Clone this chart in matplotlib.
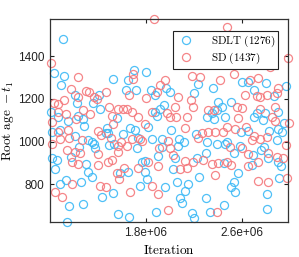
import matplotlib
matplotlib.use("Agg")
import matplotlib.pyplot as plt
import numpy as np

plt.rcParams["mathtext.fontset"] = "cm"

# iteration (millions) and root age for each sampler
sdlt_iter = [1.106, 1.036, 1.119, 1.089, 1.208, 1.411, 1.223, 1.361, 1.419, 1.006,
             1.236, 1.067, 1.153, 1.278, 1.286, 1.019, 1.083, 1.208, 1.314, 1.348,
             1.369, 1.464, 1.242, 1.175, 1.375, 1.298, 1.014, 1.056, 1.042, 1.319,
             1.353, 1.131, 1.083, 1.258, 1.431, 1.158, 1.273, 1.139, 1.525, 1.569,
             1.661, 1.750, 1.528, 1.700, 1.798, 1.648, 1.631, 1.717, 1.839, 1.875,
             1.964, 1.875, 1.917, 1.953, 1.558, 1.889, 1.473, 1.667, 1.708, 1.814,
             1.486, 1.611, 1.736, 1.853, 1.931, 1.492, 1.531, 1.725, 1.931, 1.898,
             1.769, 1.792, 1.583, 1.648, 1.792, 1.806, 1.958, 1.881, 2.236, 2.000,
             2.361, 2.203, 2.403, 2.431, 2.348, 2.389, 2.306, 2.458, 2.564, 2.603,
             2.653, 2.798, 2.703, 2.869, 2.964, 2.508, 2.723, 2.792, 2.903, 2.703,
             2.369, 2.008, 2.214, 2.075, 2.119, 2.069, 2.306, 2.389, 2.458, 2.042,
             2.222, 2.300, 2.453, 2.028, 2.056, 2.242, 2.153, 2.125, 2.083, 2.103,
             2.298, 2.181, 2.203, 2.333, 2.778, 2.953, 2.592, 2.648, 2.825, 2.903,
             2.931, 2.473, 2.583, 2.758, 2.783, 2.894, 2.536, 2.694, 2.819, 2.903,
             2.925, 2.564, 2.681, 2.908, 2.508, 2.536, 2.542, 2.806, 2.450, 2.806]
sdlt_age = [1478, 1322, 1306, 1263, 1216, 1216, 1181, 1181, 1153, 1138,
            1119, 1115, 1096, 1105, 1074, 1046, 1054, 1027, 1007, 999,
            987, 1038, 976, 929, 968, 893, 921, 913, 871, 856,
            835, 821, 804, 812, 740, 699, 706, 625, 759, 663,
            647, 793, 1294, 1334, 1325, 1288, 1241, 1239, 1241, 1216,
            1249, 1139, 1151, 1169, 1112, 1119, 1062, 1064, 1054, 1069,
            1038, 1034, 1018, 1012, 1012, 983, 987, 971, 976, 933,
            905, 909, 851, 856, 856, 824, 788, 671, 1269, 1233,
            1249, 1225, 1186, 1163, 1132, 1147, 1113, 1116, 1381, 1280,
            1280, 1275, 1241, 1213, 1260, 1186, 1132, 1132, 1139, 1116,
            1105, 1054, 1034, 1012, 999, 980, 999, 991, 991, 921,
            924, 945, 898, 874, 812, 835, 804, 768, 734, 711,
            734, 664, 643, 671, 1100, 1085, 1046, 1049, 1049, 1058,
            1046, 999, 980, 960, 976, 1007, 945, 937, 921, 905,
            887, 851, 890, 830, 788, 812, 762, 757, 703, 687]

sd_iter = [1.006, 1.236, 1.175, 1.303, 1.328, 1.231, 1.369, 1.389, 1.471, 1.114,
           1.033, 1.069, 1.278, 1.333, 1.064, 1.133, 1.214, 1.019, 1.148, 1.069,
           1.086, 1.158, 1.014, 1.269, 1.403, 1.425, 1.139, 1.208, 1.250, 1.403,
           1.181, 1.231, 1.398, 1.186, 1.417, 1.463, 1.042, 1.103, 1.667, 1.867,
           1.689, 1.694, 1.661, 1.798, 1.889, 1.917, 1.958, 1.494, 1.569, 1.611,
           1.639, 1.681, 1.848, 1.513, 1.736, 1.528, 1.792, 1.508, 1.592, 1.681,
           1.750, 1.764, 1.564, 1.642, 1.908, 1.569, 1.486, 1.519, 1.819, 1.736,
           1.903, 1.619, 1.556, 1.575, 1.848, 1.903, 2.479, 2.064, 2.083, 2.222,
           2.186, 2.248, 2.417, 2.069, 2.175, 2.042, 2.194, 2.314, 2.369, 1.972,
           2.000, 2.048, 2.139, 2.986, 2.750, 2.536, 2.833, 2.667, 2.731, 2.625,
           2.723, 2.750, 2.806, 2.903, 2.889, 2.556, 2.598, 2.750, 2.875, 2.853,
           2.125, 2.264, 2.314, 2.375, 2.444, 1.986, 2.231, 2.000, 2.028, 2.125,
           2.083, 2.139, 2.278, 2.347, 2.403, 2.194, 2.375, 1.986, 2.389, 2.564,
           2.875, 2.990, 2.473, 2.542, 2.631, 2.681, 2.703, 2.750, 2.806, 2.500,
           2.598, 2.964, 2.653, 2.814, 2.889, 2.944, 2.473, 2.508, 2.653, 2.736,
           2.736, 2.819, 2.972]
sd_age = [1366, 1303, 1246, 1236, 1232, 1207, 1207, 1200, 1232, 1194,
          1179, 1175, 1147, 1129, 1138, 1129, 1108, 1090, 1054, 1046,
          1012, 1018, 991, 1007, 1049, 1030, 960, 952, 949, 940,
          905, 893, 890, 800, 792, 787, 765, 743, 762, 1572,
          1316, 1292, 1219, 1205, 1232, 1264, 1288, 1160, 1152, 1152,
          1153, 1138, 1138, 1119, 1113, 1080, 1080, 1015, 996, 1012,
          1012, 1002, 980, 980, 968, 952, 905, 913, 905, 877,
          887, 877, 851, 824, 793, 753, 1534, 1366, 1378, 1381,
          1308, 1303, 1288, 1210, 1194, 1163, 1163, 1147, 1147, 1132,
          1116, 1113, 1113, 1389, 1373, 1316, 1347, 1288, 1296, 1217,
          1213, 1207, 1217, 1249, 1228, 1163, 1155, 1151, 1160, 1116,
          1062, 1038, 1046, 1043, 1046, 1002, 1015, 968, 937, 909,
          871, 877, 913, 893, 898, 905, 843, 679, 671, 1111,
          1096, 1085, 1069, 1058, 1069, 1007, 1027, 1012, 1022, 976,
          971, 983, 940, 949, 929, 921, 905, 890, 887, 905,
          815, 812, 830]

labels = [r"$\mathrm{SDLT\ (1276)}$", r"$\mathrm{SD\ (1437)}$"]
xticks = [1.8e6, 2.6e6]
yticks = [800, 1000, 1200, 1400]

fig = plt.figure(figsize=(2.99, 2.57), dpi=100)
ax = fig.add_axes([0.167, 0.137, 0.795, 0.788])

blue = "#3cb9f6"
red = "#f4787c"
ax.plot(np.array(sdlt_iter) * 1e6, sdlt_age, "o", ms=5.8, mfc="none", mec=blue,
        mew=0.9, alpha=0.9, clip_on=False, label=labels[0])
ax.plot(np.array(sd_iter) * 1e6, sd_age, "o", ms=5.8, mfc="none", mec=red,
        mew=0.9, alpha=0.9, clip_on=False, label=labels[1])

ax.set_xlim(1.0e6, 2.98e6)
ax.set_ylim(625, 1572)
ax.set_xticks(xticks)
ax.set_xticklabels(["1.8e+06", "2.6e+06"])
ax.set_yticks(yticks)
ax.tick_params(direction="in", length=3, width=0.8, top=True, right=True,
               labelsize=8.5, colors="#222222", pad=4)
for lab in ax.get_xticklabels() + ax.get_yticklabels():
    lab.set_family("Liberation Sans")
for sp in ax.spines.values():
    sp.set_color("#333333")
    sp.set_linewidth(0.9)

ax.set_xlabel(r"$\mathrm{Iteration}$", fontsize=9.5, labelpad=3)
ax.set_ylabel(r"$\mathrm{Root\ age}\ -t_1$", fontsize=9.5, labelpad=1)

leg = ax.legend(loc="upper right", bbox_to_anchor=(0.96, 0.94), fontsize=8,
                fancybox=False, framealpha=1, edgecolor="#222222",
                borderpad=0.25, handletextpad=1.3, labelspacing=0.1,
                borderaxespad=0, handlelength=1.8)
leg.get_frame().set_linewidth(0.8)
leg.set_zorder(5)

fig.savefig("out.png", dpi=100, facecolor="white")
